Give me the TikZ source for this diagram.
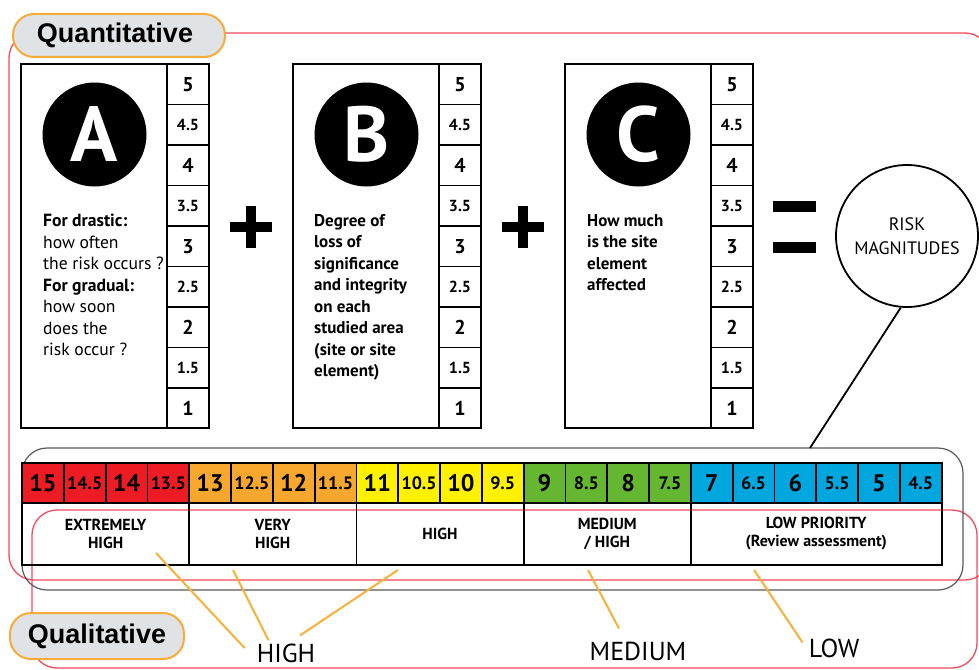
\documentclass[tikz,border=0pt]{standalone}
\usepackage{fontspec}
\setmainfont{PT Sans}
\newfontfamily\headfont{Liberation Sans}

\definecolor{redc}{HTML}{ED1C24}
\definecolor{orangec}{HTML}{F8A72E}
\definecolor{yellowc}{HTML}{FFF100}
\definecolor{greenc}{HTML}{65B731}
\definecolor{bluec}{HTML}{00A7DE}
\definecolor{pillfill}{HTML}{E0E3E5}
\definecolor{pillline}{HTML}{F7AC3A}
\definecolor{qorange}{HTML}{F9B03A}
\definecolor{framered}{HTML}{F24A5C}

\def\scorelist{5/scorebig,4.5/scorehalf,4/scorebig,3.5/scorehalf,3/scorebig,2.5/scorehalf,2/scorebig,1.5/scorehalf,1/scorebig}

\begin{document}
\begin{tikzpicture}[x=1pt, y=-1pt,
  box/.style={draw, line width=1.8pt, minimum width=188pt, minimum height=364pt},
  letter/.style={circle, fill=black, text=white, minimum size=104pt, inner sep=0pt, font=\bfseries\fontsize{78}{78}\selectfont},
  scorebig/.style={draw, line width=1.8pt, minimum width=42pt, minimum height=40.5pt, inner sep=0pt, font=\bfseries\fontsize{20}{20}\selectfont},
  scorehalf/.style={scorebig, font=\bfseries\fontsize{16}{16}\selectfont},
  txt/.style={anchor=north west, align=left, inner sep=0pt, font=\fontsize{17.6}{21.5}\selectfont},
  cellbig/.style={draw, line width=1.8pt, minimum width=41.8pt, minimum height=40pt, inner sep=0pt, font=\bfseries\fontsize{24}{24}\selectfont},
  cellhalf/.style={cellbig, font=\bfseries\fontsize{18}{18}\selectfont},
  lvlbox/.style={draw, line width=1.8pt, minimum height=62pt, inner sep=0pt, align=center, font=\bfseries\fontsize{16}{18}\selectfont},
  pill/.style={draw=pillline, fill=pillfill, line width=2pt, rounded corners=21pt, font=\headfont\bfseries\fontsize{27}{27}\selectfont},
  qualline/.style={qorange, line width=2pt},
  redframe/.style={framered, line width=1.3pt, rounded corners=25pt},
  qword/.style={inner sep=0pt, font=\fontsize{26}{26}\selectfont}
]
\useasboundingbox (0,0) rectangle (979,669);

% frames
\draw[redframe] (9,33) rectangle (990,580);
\draw[redframe] (32,510) rectangle (977,668);
\draw[gray!70!black, line width=1.2pt, rounded corners=25pt] (22,448) rectangle (963,590);

% box A
\def\dx{0}
\node[box] (A) at (\dx+115, 246) {};
\node[letter] (cA) at (\dx+94.5, 134.5) {A};
\foreach \v/\s [count=\i] in \scorelist
  \node[\s] (A\i) at (\dx+188, 43.75+40.5*\i) {\v};
\node[txt] (tA) at (\dx+43, 214) {\textbf{For drastic:}\\how often\\the risk occurs ?\\\textbf{For gradual:}\\how soon\\does the\\risk occur ?};

% box B
\def\dx{272}
\node[box] (B) at (\dx+115, 246) {};
\node[letter] (cB) at (\dx+94.5, 134.5) {B};
\foreach \v/\s [count=\i] in \scorelist
  \node[\s] (B\i) at (\dx+188, 43.75+40.5*\i) {\v};
\node[txt, font=\bfseries\fontsize{17}{21.5}\selectfont] (tB) at (\dx+42, 214) {Degree of\\loss of\\significance\\and integrity\\on each\\studied area\\(site or site\\element)};

% box C
\def\dx{544}
\node[box] (C) at (\dx+115, 246) {};
\node[letter] (cC) at (\dx+94.5, 134.5) {C};
\foreach \v/\s [count=\i] in \scorelist
  \node[\s] (C\i) at (\dx+188, 43.75+40.5*\i) {\v};
\node[txt, font=\bfseries\fontsize{17}{21.5}\selectfont] (tC) at (\dx+43, 214) {How much\\is the site\\element\\affected};

% plus, plus, equals
\fill (230,222) rectangle (272,232); \fill (246,206) rectangle (256,248);
\fill (502,222) rectangle (544,232); \fill (518,206) rectangle (528,248);
\fill (773,201) rectangle (816,212); \fill (773,242) rectangle (816,253);

\node[circle, draw, line width=1.8pt, minimum size=142pt, align=center, font=\fontsize{18}{24}\selectfont] (risk) at (907,236) {RISK\\MAGNITUDES};
\coordinate (rtip) at (810,448);
\draw[line width=1.8pt] (risk.265) -- (rtip);

% magnitude scale
\foreach \v/\s/\c [count=\i] in {15/cellbig/redc,14.5/cellhalf/redc,14/cellbig/redc,13.5/cellhalf/redc,13/cellbig/orangec,12.5/cellhalf/orangec,12/cellbig/orangec,11.5/cellhalf/orangec,11/cellbig/yellowc,10.5/cellhalf/yellowc,10/cellbig/yellowc,9.5/cellhalf/yellowc,9/cellbig/greenc,8.5/cellhalf/greenc,8/cellbig/greenc,7.5/cellhalf/greenc,7/cellbig/bluec,6.5/cellhalf/bluec,6/cellbig/bluec,5.5/cellhalf/bluec,5/cellbig/bluec,4.5/cellhalf/bluec}
  \node[\s, fill=\c] (m\i) at (1.1+41.8*\i, 483) {\v};

\node[lvlbox, minimum width=167.2pt] (ext) at (105.6,534) {EXTREMELY\\HIGH};
\node[lvlbox, minimum width=167.2pt] (vhigh) at (272.8,534) {VERY\\HIGH};
\node[lvlbox, minimum width=167.2pt] (high) at (440,534) {HIGH};
\node[lvlbox, minimum width=167.2pt] (medh) at (607.2,534) {MEDIUM\\/ HIGH};
\node[lvlbox, minimum width=250.8pt] (lowp) at (816.2,534) {LOW PRIORITY\\(Review assessment)};

% tabs
\node[pill, minimum width=212pt, minimum height=43pt] (quant) at (119,35.5) {Quantitative\hspace*{8pt}};
\node[pill, minimum width=174pt, minimum height=46pt] (qualtab) at (97,636) {Qualitative};

% qualitative levels
\node[qword] (qhigh) at (286,653) {HIGH};
\node[qword] (qmed) at (638,651) {MEDIUM};
\node[qword] (qlow) at (834,648.5) {LOW};

\coordinate (e1) at (156,553);
\coordinate (e2) at (233,570);
\coordinate (e3) at (398,570);
\coordinate (e4) at (588,570);
\coordinate (e5) at (754,570);
\draw[qualline] (e1) -- ([shift={(-12,-5)}]qhigh.west);
\draw[qualline] (e2) -- ([shift={(12,-3)}]qhigh.north west);
\draw[qualline] (e3) -- ([shift={(14,-8)}]qhigh.north);
\draw[qualline] (e4) -- ([shift={(-19,-13)}]qmed.north);
\draw[qualline] (e5) -- ([shift={(-6,-6)}]qlow.west);
\end{tikzpicture}
\end{document}
